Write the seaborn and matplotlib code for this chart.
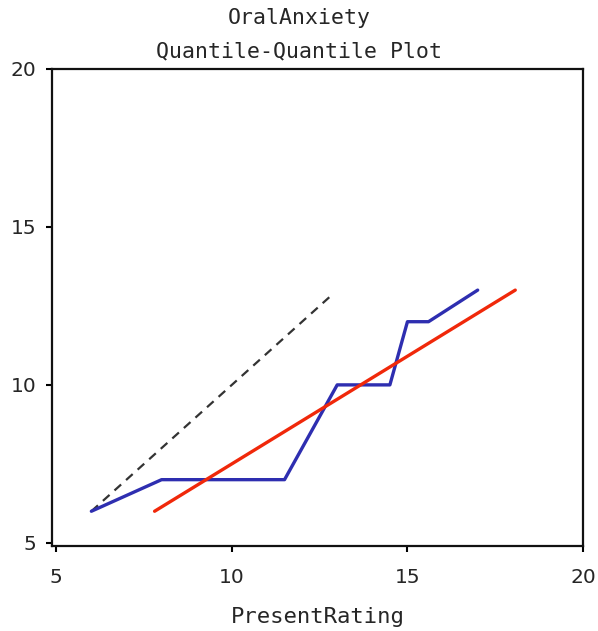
import pandas as pd
import matplotlib
matplotlib.use("Agg")
import matplotlib.pyplot as plt
import seaborn as sns

# Q-Q 곡선 (PresentRating vs OralAnxiety)
qq_x = [6, 8, 11.5, 13, 14.5, 15, 15.6, 17]
qq_y = [6, 7, 7, 10, 10, 12, 12, 13]

# 적합선
fit_x = [7.8, 18.07]
fit_y = [6, 13]

# 기준선 (y = x)
ref_x = [6, 12.9]
ref_y = [6, 12.9]

ticks = [5, 10, 15, 20]


def draw_qq_plot():
    sns.set_style("ticks")
    plt.rcParams["font.family"] = ["DejaVu Sans"]

    fig = plt.figure(figsize=(5.98, 6.31), dpi=100)
    ax = fig.add_axes([0.087, 0.1347, 0.888, 0.756])

    df_qq = pd.DataFrame({"x": qq_x, "y": qq_y})
    df_fit = pd.DataFrame({"x": fit_x, "y": fit_y})
    df_ref = pd.DataFrame({"x": ref_x, "y": ref_y})

    sns.lineplot(data=df_ref, x="x", y="y", ax=ax, sort=False, estimator=None,
                 color="#333333", linewidth=1.6, linestyle=(0, (4, 3)))
    sns.lineplot(data=df_qq, x="x", y="y", ax=ax, sort=False, estimator=None,
                 color="#2e2eb0", linewidth=2.4)
    sns.lineplot(data=df_fit, x="x", y="y", ax=ax, sort=False, estimator=None,
                 color="#f0280a", linewidth=2.4)

    ax.set_xlim(4.88, 20)
    ax.set_ylim(4.9, 20)
    ax.set_xticks(ticks)
    ax.set_yticks(ticks)
    ax.tick_params(labelsize=14.5, length=4, width=1.5, color="black")
    ax.tick_params(axis="x", pad=12)
    ax.tick_params(axis="y", pad=7)
    for s in ax.spines.values():
        s.set_visible(True)
        s.set_linewidth(1.6)
        s.set_color("#111111")

    ax.set_xlabel("PresentRating", fontsize=16, family="DejaVu Sans Mono", labelpad=14)
    ax.set_ylabel("")

    fig.text(0.5, 0.972, "OralAnxiety", ha="center", va="center",
             fontsize=15.5, family="DejaVu Sans Mono")
    fig.text(0.5, 0.919, "Quantile-Quantile Plot", ha="center", va="center",
             fontsize=15.5, family="DejaVu Sans Mono")

    fig.savefig("out.png", dpi=100)


if __name__ == "__main__":
    draw_qq_plot()
